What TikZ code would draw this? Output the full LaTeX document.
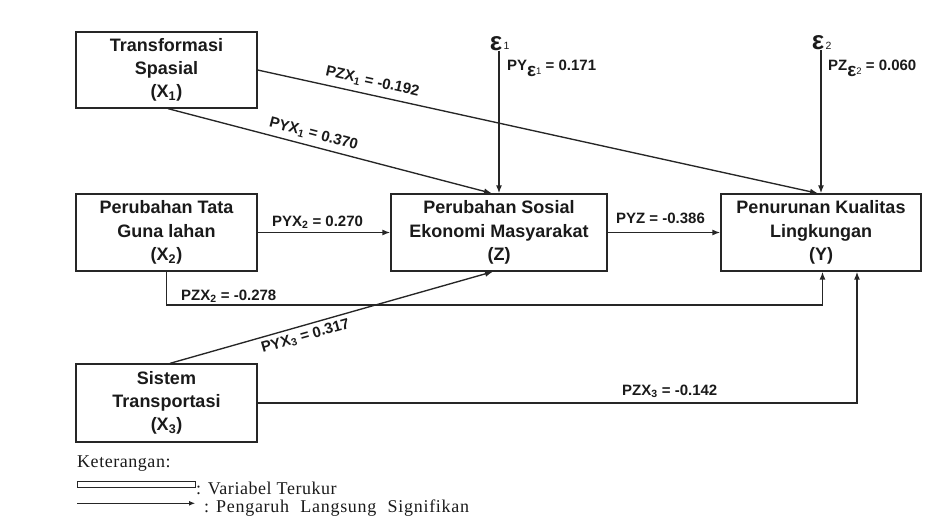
\documentclass[tikz,border=0pt]{standalone}
\usepackage{fontspec}
\setmainfont{Liberation Sans}
\newfontfamily\legendfont[LetterSpace=3]{Liberation Serif}
\newfontfamily\legendwide[LetterSpace=4]{Liberation Serif}
\usetikzlibrary{arrows.meta}
\definecolor{linec}{HTML}{262626}
\definecolor{textc}{HTML}{1A1A1A}

\begin{document}
\begin{tikzpicture}[x=1pt,y=-1pt,
  conn/.style={draw=linec, line width=1.35pt},
  arr/.style={conn, -{Latex[length=8pt,width=6pt]}},
  var/.style={draw=linec, line width=1.3pt, fill=white, align=center,
    inner sep=0pt, text=textc, font=\bfseries\fontsize{18}{23.3}\selectfont},
  coef/.style={inner sep=2pt, text=textc, font=\bfseries\fontsize{15}{15}\selectfont},
  errsym/.style={inner sep=0pt, text=textc, font=\bfseries\fontsize{26}{26}\selectfont},
  errsub/.style={inner sep=0pt, text=textc, font=\fontsize{10.5}{10.5}\selectfont},
  legtext/.style={inner sep=0pt, text=textc, anchor=base west},
]
\useasboundingbox (0,0) rectangle (930,524);

% variables
\node[var, minimum width=181, minimum height=76] (x1) at (166.5,70)
  {Transformasi\\Spasial\\(X\textsubscript{1})};
\node[var, minimum width=181, minimum height=77] (x2) at (166.5,232.5)
  {Perubahan Tata\\Guna lahan\\(X\textsubscript{2})};
\node[var, minimum width=181, minimum height=78] (x3) at (166.5,403)
  {Sistem\\Transportasi\\(X\textsubscript{3})};
\node[var, minimum width=216, minimum height=77] (z) at (499,232.5)
  {Perubahan Sosial\\Ekonomi Masyarakat\\(Z)};
\node[var, minimum width=200, minimum height=77] (y) at (821,232.5)
  {Penurunan Kualitas\\Lingkungan\\(Y)};

% error terms
\node[errsym] (e1) at (496,43.5) {ε};
\node[errsub] (e1s) at (506.5,45.5) {1};
\node[errsym] (e2) at (818,43) {ε};
\node[errsub] (e2s) at (828.5,45.5) {2};

% paths
\draw[arr] (x1.east) -- ([xshift=-3pt]y.north)
  node[coef, pos=0.2, sloped, above=4pt] (lzx1) {PZX\textsubscript{1} = -0.192};
\draw[arr] ([xshift=1.5pt]x1.south) -- ([xshift=-7pt]z.north)
  node[coef, pos=0.44, sloped, above=3pt] (lyx1) {PYX\textsubscript{1} = 0.370};
\draw[arr] (e1.south -| z.north) -- (z.north);
\draw[arr] (e2.south -| y.north) -- (y.north);
\draw[arr] (x2.east) -- (z.west);
\draw[arr] (z.east) -- (y.west);
\coordinate (low2) at (0,305);
\draw[arr] (x2.south) -- (x2.south |- low2) -| ([xshift=1.5pt]y.south);
\draw[arr] ([xshift=3.5pt]x3.north) -- ([xshift=-6pt]z.south)
  node[coef, pos=0.41, sloped, below=2pt] (lyx3) {PYX\textsubscript{3} = 0.317};
\draw[arr] (x3.east) -| ([xshift=36pt]y.south);

% coefficients on the straight paths
\node[coef, anchor=base] (lyx2) at (317.5,226) {PYX\textsubscript{2} = 0.270};
\node[coef, anchor=base] (lyz) at (660.5,223.5) {PYZ = -0.386};
\node[coef, anchor=base west, inner sep=0pt] (lzx2) at (181,300) {PZX\textsubscript{2} = -0.278};
\node[coef, anchor=base west, inner sep=0pt] (lzx3) at (622,395) {PZX\textsubscript{3} = -0.142};
\node[coef, anchor=base west, inner sep=0pt] (le1) at (507,70.7)
  {PY\raisebox{-6.3pt}{\fontsize{19}{19}\selectfont ε}\raisebox{-4.3pt}{\mdseries\fontsize{9.5}{9.5}\selectfont 1} = 0.171};
\node[coef, anchor=base west, inner sep=0pt] (le2) at (828,70.7)
  {PZ\raisebox{-6.3pt}{\fontsize{19}{19}\selectfont ε}\raisebox{-4.3pt}{\mdseries\fontsize{9.5}{9.5}\selectfont 2} = 0.060};

% legend
\node[legtext, font=\legendfont\fontsize{18}{18}\selectfont] (ket) at (77,467) {Keterangan:};
\node[draw=linec, line width=0.9pt, minimum width=118, minimum height=5.5, inner sep=0pt] (legbox) at (136,484.5) {};
\node[legtext, font=\legendfont\fontsize{18}{18}\selectfont] (legvar) at (196,494) {: Variabel Terukur};
\coordinate (legA) at (77,503.3);
\coordinate (legB) at (195,503.3);
\draw[draw=linec, line width=0.9pt, -{Latex[length=6pt,width=5pt]}] (legA) -- (legB);
\node[legtext, font=\legendwide\fontsize{18}{18}\selectfont] (legarr) at (204,512.5)
  {: Pengaruh\hspace{6pt} Langsung\hspace{6pt} Signifikan};
\end{tikzpicture}
\end{document}
